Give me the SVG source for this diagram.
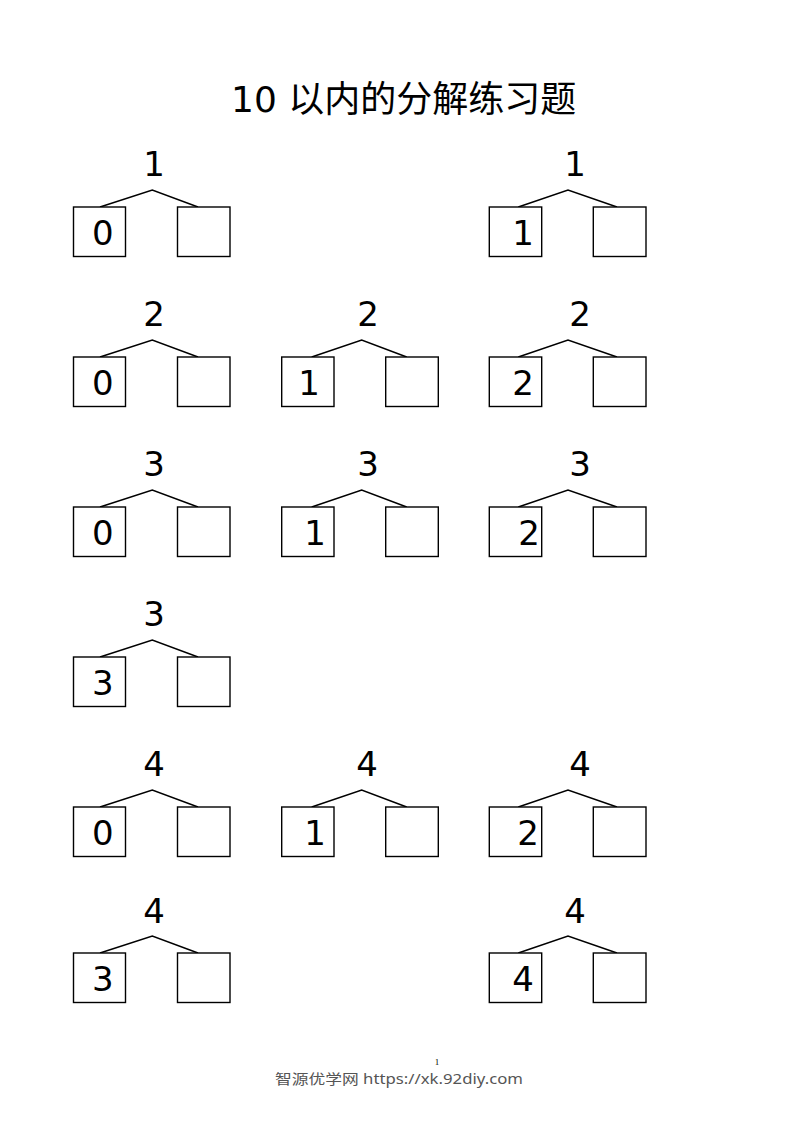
<svg xmlns="http://www.w3.org/2000/svg" width="793" height="1122" viewBox="0 0 793 1122">
<style>
.bg{fill:#ffffff}
.box{fill:#ffffff;stroke:#000;stroke-width:1.4}
.num{font-family:"DejaVu Sans","Verdana",sans-serif;font-size:34px;fill:#000;text-anchor:middle}
.con{fill:none;stroke:#000;stroke-width:1.5}
.title{font-family:"DejaVu Sans","Noto Sans CJK SC",sans-serif;font-size:36px;fill:#000}
.foot{font-family:"Noto Sans","Noto Sans CJK SC",sans-serif;font-size:14px;fill:#555}
.page{font-family:"Liberation Serif",serif;font-size:9px;fill:#000;text-anchor:middle}
</style>
<rect class="bg" x="0" y="0" width="793" height="1122"/>
<text class="title" x="231" y="112">10 以内的分解练习题</text>

<g id="connectors">
  <polyline class="con" points="100,207 152.3,190 198,207"/>
  <polyline class="con" points="518.3,207 568,190 617,207"/>
  <polyline class="con" points="100,357 152.3,340 198,357"/>
  <polyline class="con" points="311.7,357 361.7,340 406.7,357"/>
  <polyline class="con" points="518.3,357 568,340 617,357"/>
  <polyline class="con" points="100,507 152.3,490 198,507"/>
  <polyline class="con" points="311.7,507 361.7,490 406.7,507"/>
  <polyline class="con" points="518.3,507 568,490 617,507"/>
  <polyline class="con" points="100,657 152.3,640 198,657"/>
  <polyline class="con" points="100,807 152.3,790 198,807"/>
  <polyline class="con" points="311.7,807 361.7,790 406.7,807"/>
  <polyline class="con" points="518.3,807 568,790 617,807"/>
  <polyline class="con" points="100,953 152.3,936 198,953"/>
  <polyline class="con" points="518.3,953 568,936 617,953"/>
</g>

<g id="n-r1c1">
  <text class="num" x="154" y="176">1</text>
  <rect class="box" x="73.5" y="207" width="52" height="49.5"/>
  <text class="num" x="102.7" y="245">0</text>
  <rect class="box" x="177.5" y="207" width="52.5" height="49.5"/>
</g>
<g id="n-r1c3">
  <text class="num" x="575" y="176">1</text>
  <rect class="box" x="489.3" y="207" width="52.4" height="49.5"/>
  <text class="num" x="523" y="245">1</text>
  <rect class="box" x="593.3" y="207" width="52.7" height="49.5"/>
</g>

<g id="n-r2c1">
  <text class="num" x="154" y="326">2</text>
  <rect class="box" x="73.5" y="357" width="52" height="49.5"/>
  <text class="num" x="102.7" y="395">0</text>
  <rect class="box" x="177.5" y="357" width="52.5" height="49.5"/>
</g>
<g id="n-r2c2">
  <text class="num" x="368" y="326">2</text>
  <rect class="box" x="281.7" y="357" width="52.3" height="49.5"/>
  <text class="num" x="309" y="395">1</text>
  <rect class="box" x="385.7" y="357" width="52.6" height="49.5"/>
</g>
<g id="n-r2c3">
  <text class="num" x="580" y="326">2</text>
  <rect class="box" x="489.3" y="357" width="52.4" height="49.5"/>
  <text class="num" x="523" y="395">2</text>
  <rect class="box" x="593.3" y="357" width="52.7" height="49.5"/>
</g>

<g id="n-r3c1">
  <text class="num" x="154" y="476">3</text>
  <rect class="box" x="73.5" y="507" width="52" height="49.5"/>
  <text class="num" x="102.7" y="545">0</text>
  <rect class="box" x="177.5" y="507" width="52.5" height="49.5"/>
</g>
<g id="n-r3c2">
  <text class="num" x="368" y="476">3</text>
  <rect class="box" x="281.7" y="507" width="52.3" height="49.5"/>
  <text class="num" x="315" y="545">1</text>
  <rect class="box" x="385.7" y="507" width="52.6" height="49.5"/>
</g>
<g id="n-r3c3">
  <text class="num" x="580" y="476">3</text>
  <rect class="box" x="489.3" y="507" width="52.4" height="49.5"/>
  <text class="num" x="529" y="545">2</text>
  <rect class="box" x="593.3" y="507" width="52.7" height="49.5"/>
</g>

<g id="n-r4c1">
  <text class="num" x="154" y="626">3</text>
  <rect class="box" x="73.5" y="657" width="52" height="49.5"/>
  <text class="num" x="102.7" y="695">3</text>
  <rect class="box" x="177.5" y="657" width="52.5" height="49.5"/>
</g>

<g id="n-r5c1">
  <text class="num" x="154" y="776">4</text>
  <rect class="box" x="73.5" y="807" width="52" height="49.5"/>
  <text class="num" x="102.7" y="845">0</text>
  <rect class="box" x="177.5" y="807" width="52.5" height="49.5"/>
</g>
<g id="n-r5c2">
  <text class="num" x="367" y="776">4</text>
  <rect class="box" x="281.7" y="807" width="52.3" height="49.5"/>
  <text class="num" x="315" y="845">1</text>
  <rect class="box" x="385.7" y="807" width="52.6" height="49.5"/>
</g>
<g id="n-r5c3">
  <text class="num" x="580" y="776">4</text>
  <rect class="box" x="489.3" y="807" width="52.4" height="49.5"/>
  <text class="num" x="528" y="845">2</text>
  <rect class="box" x="593.3" y="807" width="52.7" height="49.5"/>
</g>

<g id="n-r6c1">
  <text class="num" x="154" y="923">4</text>
  <rect class="box" x="73.5" y="953" width="52" height="49.5"/>
  <text class="num" x="102.7" y="991">3</text>
  <rect class="box" x="177.5" y="953" width="52.5" height="49.5"/>
</g>
<g id="n-r6c3">
  <text class="num" x="575" y="923">4</text>
  <rect class="box" x="489.3" y="953" width="52.4" height="49.5"/>
  <text class="num" x="523" y="991">4</text>
  <rect class="box" x="593.3" y="953" width="52.7" height="49.5"/>
</g>

<text class="page" x="437" y="1065">1</text>
<text class="foot" x="275" y="1084" textLength="248" lengthAdjust="spacingAndGlyphs">智源优学网 https://xk.92diy.com</text>
</svg>
